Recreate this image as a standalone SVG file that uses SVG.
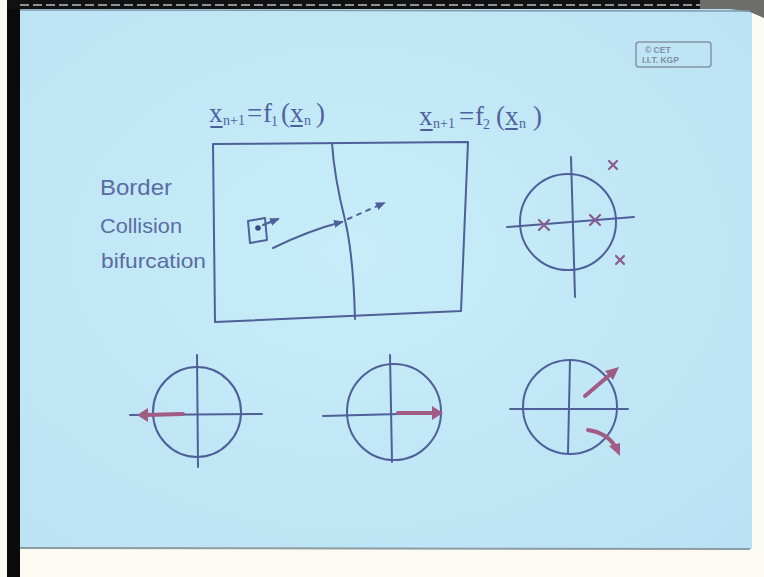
<svg xmlns="http://www.w3.org/2000/svg" width="764" height="577" viewBox="0 0 764 577">
<style>
.pen{fill:none;stroke:#4f5f98;stroke-width:2;stroke-linecap:round;stroke-linejoin:round}
.red{fill:none;stroke:#a05c82;stroke-width:4;stroke-linecap:round}
.redh{fill:#a05c82;stroke:none}
.x{fill:none;stroke:#8a5c8e;stroke-width:2.2;stroke-linecap:round}
.hw{font-family:"Liberation Sans","DejaVu Sans",sans-serif;fill:#5a6ca2}
.eq{font-family:"Liberation Serif","DejaVu Serif",serif;fill:#4f62a0;font-size:27px}
.sub{font-size:14px}
.cet{font-family:"Liberation Sans",Arial,sans-serif;font-size:8.5px;fill:#7f8f9f;font-weight:bold}
</style>
<defs>
<radialGradient id="bg" cx="0.45" cy="0.45" r="0.75">
<stop offset="0" stop-color="#c8edf9"/>
<stop offset="1" stop-color="#bbe2f4"/>
</radialGradient>
<marker id="ah" viewBox="0 0 10 10" refX="8" refY="5" markerWidth="5" markerHeight="5" orient="auto">
<path d="M0,1 L10,5 L0,9 Z" fill="#4f5f98"/>
</marker>
</defs>
<rect width="764" height="577" fill="#fbfbf3"/>
<rect x="20" y="9" width="732" height="540" fill="url(#bg)"/>
<line x1="20" y1="548" x2="750" y2="549" stroke="#8c9ca2" stroke-width="2"/>
<rect x="7" y="0" width="13" height="577" fill="#0b0b0b"/>
<rect x="7" y="0" width="700" height="9" fill="#121212"/>
<line x1="20" y1="5" x2="700" y2="5" stroke="#8a939a" stroke-width="2" stroke-dasharray="9 4"/>
<polygon points="700,0 764,0 764,18 750,12 730,9 700,9" fill="#6d6e6a"/>
<line x1="20" y1="10" x2="750" y2="11" stroke="#7d9aaa" stroke-width="1.5"/>

<g id="cet">
<rect x="636" y="42" width="75" height="25" rx="3" fill="none" stroke="#8595a3" stroke-width="1.5"/>
<text class="cet" x="645" y="53">© CET</text>
<text class="cet" x="642" y="63">I.I.T. KGP</text>
</g>

<g id="eq1">
<text class="eq" y="122"><tspan x="209">x</tspan><tspan class="sub" x="223" y="125">n+1</tspan><tspan x="247" y="122">=</tspan><tspan x="263">f</tspan><tspan class="sub" x="271" y="126">1</tspan><tspan x="281" y="122">(</tspan><tspan x="290">x</tspan><tspan class="sub" x="304" y="125">n</tspan><tspan x="316" y="122">)</tspan></text>
<path class="pen" d="M211,127 L222,127 M291,126 L302,126" stroke-width="1.5"/>
</g>
<g id="eq2">
<text class="eq" y="125"><tspan x="419">x</tspan><tspan class="sub" x="433" y="128">n+1</tspan><tspan x="459" y="125">=</tspan><tspan x="475">f</tspan><tspan class="sub" x="483" y="129">2</tspan><tspan x="496" y="125">(</tspan><tspan x="505">x</tspan><tspan class="sub" x="519" y="128">n</tspan><tspan x="533" y="125">)</tspan></text>
<path class="pen" d="M421,130 L432,130 M506,129 L517,129" stroke-width="1.5"/>
</g>

<g id="label">
<text class="hw" x="100" y="195" font-size="22" textLength="72" lengthAdjust="spacingAndGlyphs">Border</text>
<text class="hw" x="100" y="233" font-size="21" textLength="82" lengthAdjust="spacingAndGlyphs">Collision</text>
<text class="hw" x="101" y="268" font-size="21" textLength="105" lengthAdjust="spacingAndGlyphs">bifurcation</text>
</g>

<g id="phase-space">
<path class="pen" d="M213,144 L468,142 L461,311 L215,322 Z"/>
<path class="pen" d="M332,143 C334,175 340,200 345,220 C351,245 354,280 355,319"/>
<path class="pen" d="M248,221 L265,218 L267,240 L250,243 Z" stroke-width="1.5"/>
<circle cx="258" cy="228" r="2.8" fill="#3c4c88"/>
</g>

<g id="connectors">
<path class="pen" d="M263,225 L278,219" marker-end="url(#ah)"/>
<path class="pen" d="M273,248 Q310,230 342,222" marker-end="url(#ah)"/>
<path class="pen" d="M348,219 L384,203" stroke-dasharray="4 6" marker-end="url(#ah)"/>
</g>

<g id="eigen-top">
<ellipse class="pen" cx="568" cy="222" rx="48" ry="48"/>
<path class="pen" d="M571,157 L575,297"/>
<path class="pen" d="M507,227 L634,217"/>
<path class="x" d="M539,220 L549,230 M549,220 L539,230"/>
<path class="x" d="M590,215 L600,225 M600,215 L590,225"/>
<path class="x" d="M609,161 L617,169 M617,161 L609,169"/>
<path class="x" d="M616,256 L624,264 M624,256 L616,264"/>
</g>

<g id="eigen-a">
<ellipse class="pen" cx="197" cy="412" rx="44" ry="45"/>
<path class="pen" d="M197,355 L198,467"/>
<path class="pen" d="M130,415 L262,414"/>
<path class="red" d="M183,414 L145,415"/>
<polygon class="redh" points="137,415 148,408 148,422"/>
</g>

<g id="eigen-b">
<ellipse class="pen" cx="394" cy="412" rx="47" ry="48"/>
<path class="pen" d="M390,355 L392,462"/>
<path class="pen" d="M323,416 L400,414"/>
<path class="red" d="M398,413 L433,413"/>
<polygon class="redh" points="443,413 432,406 432,420"/>
</g>

<g id="eigen-c">
<ellipse class="pen" cx="570" cy="407" rx="47" ry="47"/>
<path class="pen" d="M570,360 L568,453"/>
<path class="pen" d="M510,409 L628,409"/>
<path class="red" d="M585,396 L612,373" stroke-width="3"/>
<polygon class="redh" points="619,367 605,371 613,380"/>
<path class="red" d="M588,430 Q608,433 616,448" stroke-width="3"/>
<polygon class="redh" points="620,456 609,446 620,443"/>
</g>
</svg>
